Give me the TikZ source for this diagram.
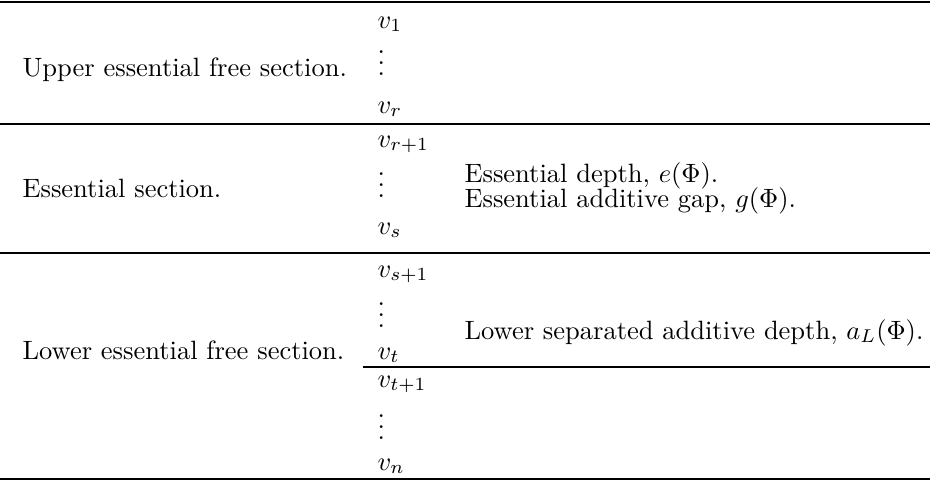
\documentclass[tikz,border=0pt]{standalone}
\begin{document}
\begin{tikzpicture}[x=0.3774pt,y=-0.3774pt]
	\tikzset{o/.style={anchor=base west,inner sep=0pt}}
	\tikzset{ke-dam/.style={line width=0.8pt}}
	\tikzset{ke-mong/.style={line width=0.5pt}}
	\useasboundingbox(0,0)rectangle(930,481);
	% cac duong ke
	\draw[ke-dam](0,2)coordinate(A1)--(930,2)coordinate(A2);
	\draw[ke-mong](0,124)coordinate(B1)--(930,124)coordinate(B2);
	\draw[ke-mong](0,253)coordinate(C1)--(930,253)coordinate(C2);
	\draw[ke-mong](363,367)coordinate(D1)--(930,367)coordinate(D2);
	\draw[ke-dam](0,479)coordinate(E1)--(930,479)coordinate(E2);
	% cot ben trai
	\path(22,76)node[o](tren){Upper essential free section.}
	(22,197)node[o](giua){Essential section.}
	(22,359)node[o](duoi){Lower essential free section.};
	% cot cac vecto
	\foreach \ten/\y/\nd in {v1/28/$v_1$,d1/75/\smash{$\vdots$},vr/113/$v_r$,
		vr1/147/$v_{r+1}$,d2/197/\smash{$\vdots$},vs/234/$v_s$,
		vs1/277/$v_{s+1}$,d3/327/\smash{$\vdots$},vt/359/$v_t$,
		vt1/387/$v_{t+1}$,d4/439/\smash{$\vdots$},vn/470/$v_n$}
	\path(377,\y)node[o](\ten){\nd};
	% cot ben phai
	\path(464,182)node[o](sau){Essential depth, $e(\Phi)$.}
	(464,207)node[o](khe){Essential additive gap, $g(\Phi)$.}
	(464,339)node[o](tach){Lower separated additive depth, $a_L(\Phi)$.};
\end{tikzpicture}
\end{document}
